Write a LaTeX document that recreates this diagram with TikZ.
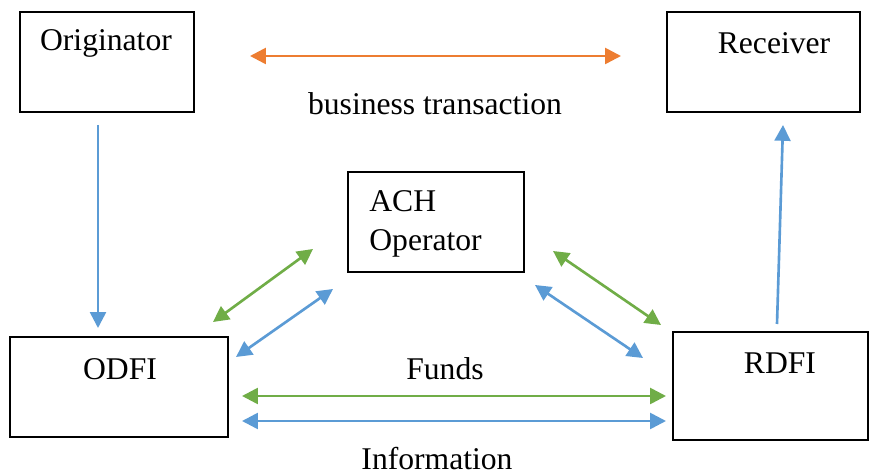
\documentclass[tikz,border=0pt]{standalone}
\usepackage{fontspec}
\setmainfont{Liberation Serif}
\usepackage{xcolor}
\definecolor{achorange}{RGB}{237,125,49}
\definecolor{achgreen}{RGB}{112,173,71}
\definecolor{achblue}{RGB}{91,155,213}
\usetikzlibrary{arrows.meta, positioning}
\tikzset{
  party/.style={draw=black, line width=0.9pt, minimum height=2cm, inner sep=0pt},
  lbl/.style={font=\fontsize{18}{22}\selectfont, inner sep=0pt},
  flow/.style={line width=1.5pt, -{Triangle[length=9pt,width=9pt]}},
  twoway/.style={line width=1.5pt, {Triangle[length=9pt,width=9pt]}-{Triangle[length=9pt,width=9pt]}}
}

\begin{document}
\begin{tikzpicture}[x=0.02cm, y=-0.02cm]
  \useasboundingbox (0,0) rectangle (875,475);
  % the five parties
  \node[party, minimum width=3.48cm] (orig) at (107,62) {};
  \node[party, minimum width=3.86cm] (recv) at (763.5,62) {};
  \node[party, minimum width=3.52cm] (ach) at (436,222) {};
  \node[party, minimum width=4.36cm] (odfi) at (119,387) {};
  \node[party, minimum width=3.9cm, minimum height=2.16cm] (rdfi) at (770.5,386) {};
  \node[lbl] (origtxt) at (106,43) {Originator};
  \node[lbl] (recvtxt) at (774,43) {Receiver};
  \node[lbl, align=left, anchor=west] (achtxt) at (369,224) {ACH\\Operator};
  \node[lbl] (odfitxt) at (120,369) {ODFI};
  \node[lbl] (rdfitxt) at (780,363) {RDFI};
  % arrow end points
  \coordinate (bizL) at (250,56);    \coordinate (bizR) at (621,56);
  \coordinate (origD) at (98,125);   \coordinate (odfiU) at (98,328);
  \coordinate (rdfiU) at (777,324);  \coordinate (recvD) at (783,125);
  \coordinate (gL1) at (213,322);    \coordinate (gL2) at (313,249);
  \coordinate (bL1) at (236,357);    \coordinate (bL2) at (333,289);
  \coordinate (gR1) at (553,251);    \coordinate (gR2) at (661,325);
  \coordinate (bR1) at (535,285);    \coordinate (bR2) at (643,358);
  \coordinate (fundL) at (242,396);  \coordinate (fundR) at (666,396);
  \coordinate (infoL) at (242,421);  \coordinate (infoR) at (666,421);
  \draw[twoway, achorange] (bizL) -- (bizR);
  \node[lbl] (biz) at (435,104) {business transaction};
  \draw[flow, achblue] (origD) -- (odfiU);
  \draw[flow, achblue] (rdfiU) -- (recvD);
  \draw[twoway, achgreen] (gL1) -- (gL2);
  \draw[twoway, achblue] (bL1) -- (bL2);
  \draw[twoway, achgreen] (gR1) -- (gR2);
  \draw[twoway, achblue] (bR1) -- (bR2);
  % funds and information between the banks
  \draw[twoway, achgreen] (fundL) -- (fundR);
  \draw[twoway, achblue] (infoL) -- (infoR);
  \node[lbl] (funds) at (445,369) {Funds};
  \node[lbl] (info) at (437,459) {Information};
\end{tikzpicture}
\end{document}
